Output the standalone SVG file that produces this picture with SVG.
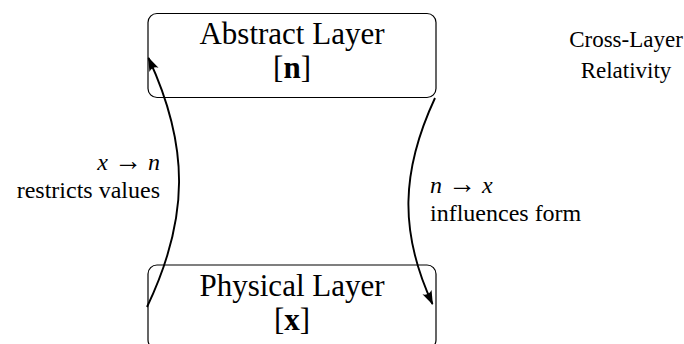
<svg xmlns="http://www.w3.org/2000/svg" width="684" height="344" viewBox="0 0 684 344">
<style>
  .box { fill: #fff; stroke: #000; stroke-width: 1.2; }
  .title { font-family: "Liberation Serif", "Times New Roman", serif; font-size: 31px; fill: #000; }
  .lbl { font-family: "Liberation Serif", "Times New Roman", serif; font-size: 24px; fill: #000; }
  .note { font-family: "Liberation Serif", "Times New Roman", serif; font-size: 23px; fill: #000; }
  .conn { fill: none; stroke: #000; stroke-width: 1.9; }
  .it { font-style: italic; }
  .b { font-weight: bold; }
</style>
<defs>
  <marker id="arr" viewBox="0 0 14 11" refX="13" refY="5.5" markerWidth="14" markerHeight="11" markerUnits="userSpaceOnUse" orient="auto">
    <path d="M0,0.5 Q4,5.5 0,10.5 L14,5.5 Z" fill="#000"/>
  </marker>
</defs>
<rect width="684" height="344" fill="#fff"/>
<g id="abstract">
  <rect class="box" x="148" y="13.5" width="288" height="84" rx="9"/>
  <text class="title" x="292" y="44" text-anchor="middle">Abstract Layer</text>
  <text class="title" x="292" y="77.5" text-anchor="middle">[<tspan class="b">n</tspan>]</text>
</g>
<g id="physical">
  <rect class="box" x="148" y="265" width="288" height="84" rx="9"/>
  <text class="title" x="292" y="296" text-anchor="middle">Physical Layer</text>
  <text class="title" x="292" y="330" text-anchor="middle">[<tspan class="b">x</tspan>]</text>
</g>
<g id="connectors">
  <path class="conn" d="M147,307 C189.5,218 189.5,146 148.5,58" marker-end="url(#arr)"/>
  <path class="conn" d="M435,98 C401,171 399,232 432.5,304" marker-end="url(#arr)"/>
</g>
<g id="labels">
  <text class="lbl" x="160" y="170" text-anchor="end"><tspan class="it">x</tspan> <tspan font-size="28">→</tspan> <tspan class="it">n</tspan></text>
  <text class="lbl" x="160" y="198" text-anchor="end">restricts values</text>
  <text class="lbl" x="430" y="193"><tspan class="it">n</tspan> <tspan font-size="28">→</tspan> <tspan class="it">x</tspan></text>
  <text class="lbl" x="430" y="221">influences form</text>
</g>
<g id="title-note">
  <text class="note" x="626" y="47" text-anchor="middle">Cross-Layer</text>
  <text class="note" x="626" y="78" text-anchor="middle">Relativity</text>
</g>
</svg>
